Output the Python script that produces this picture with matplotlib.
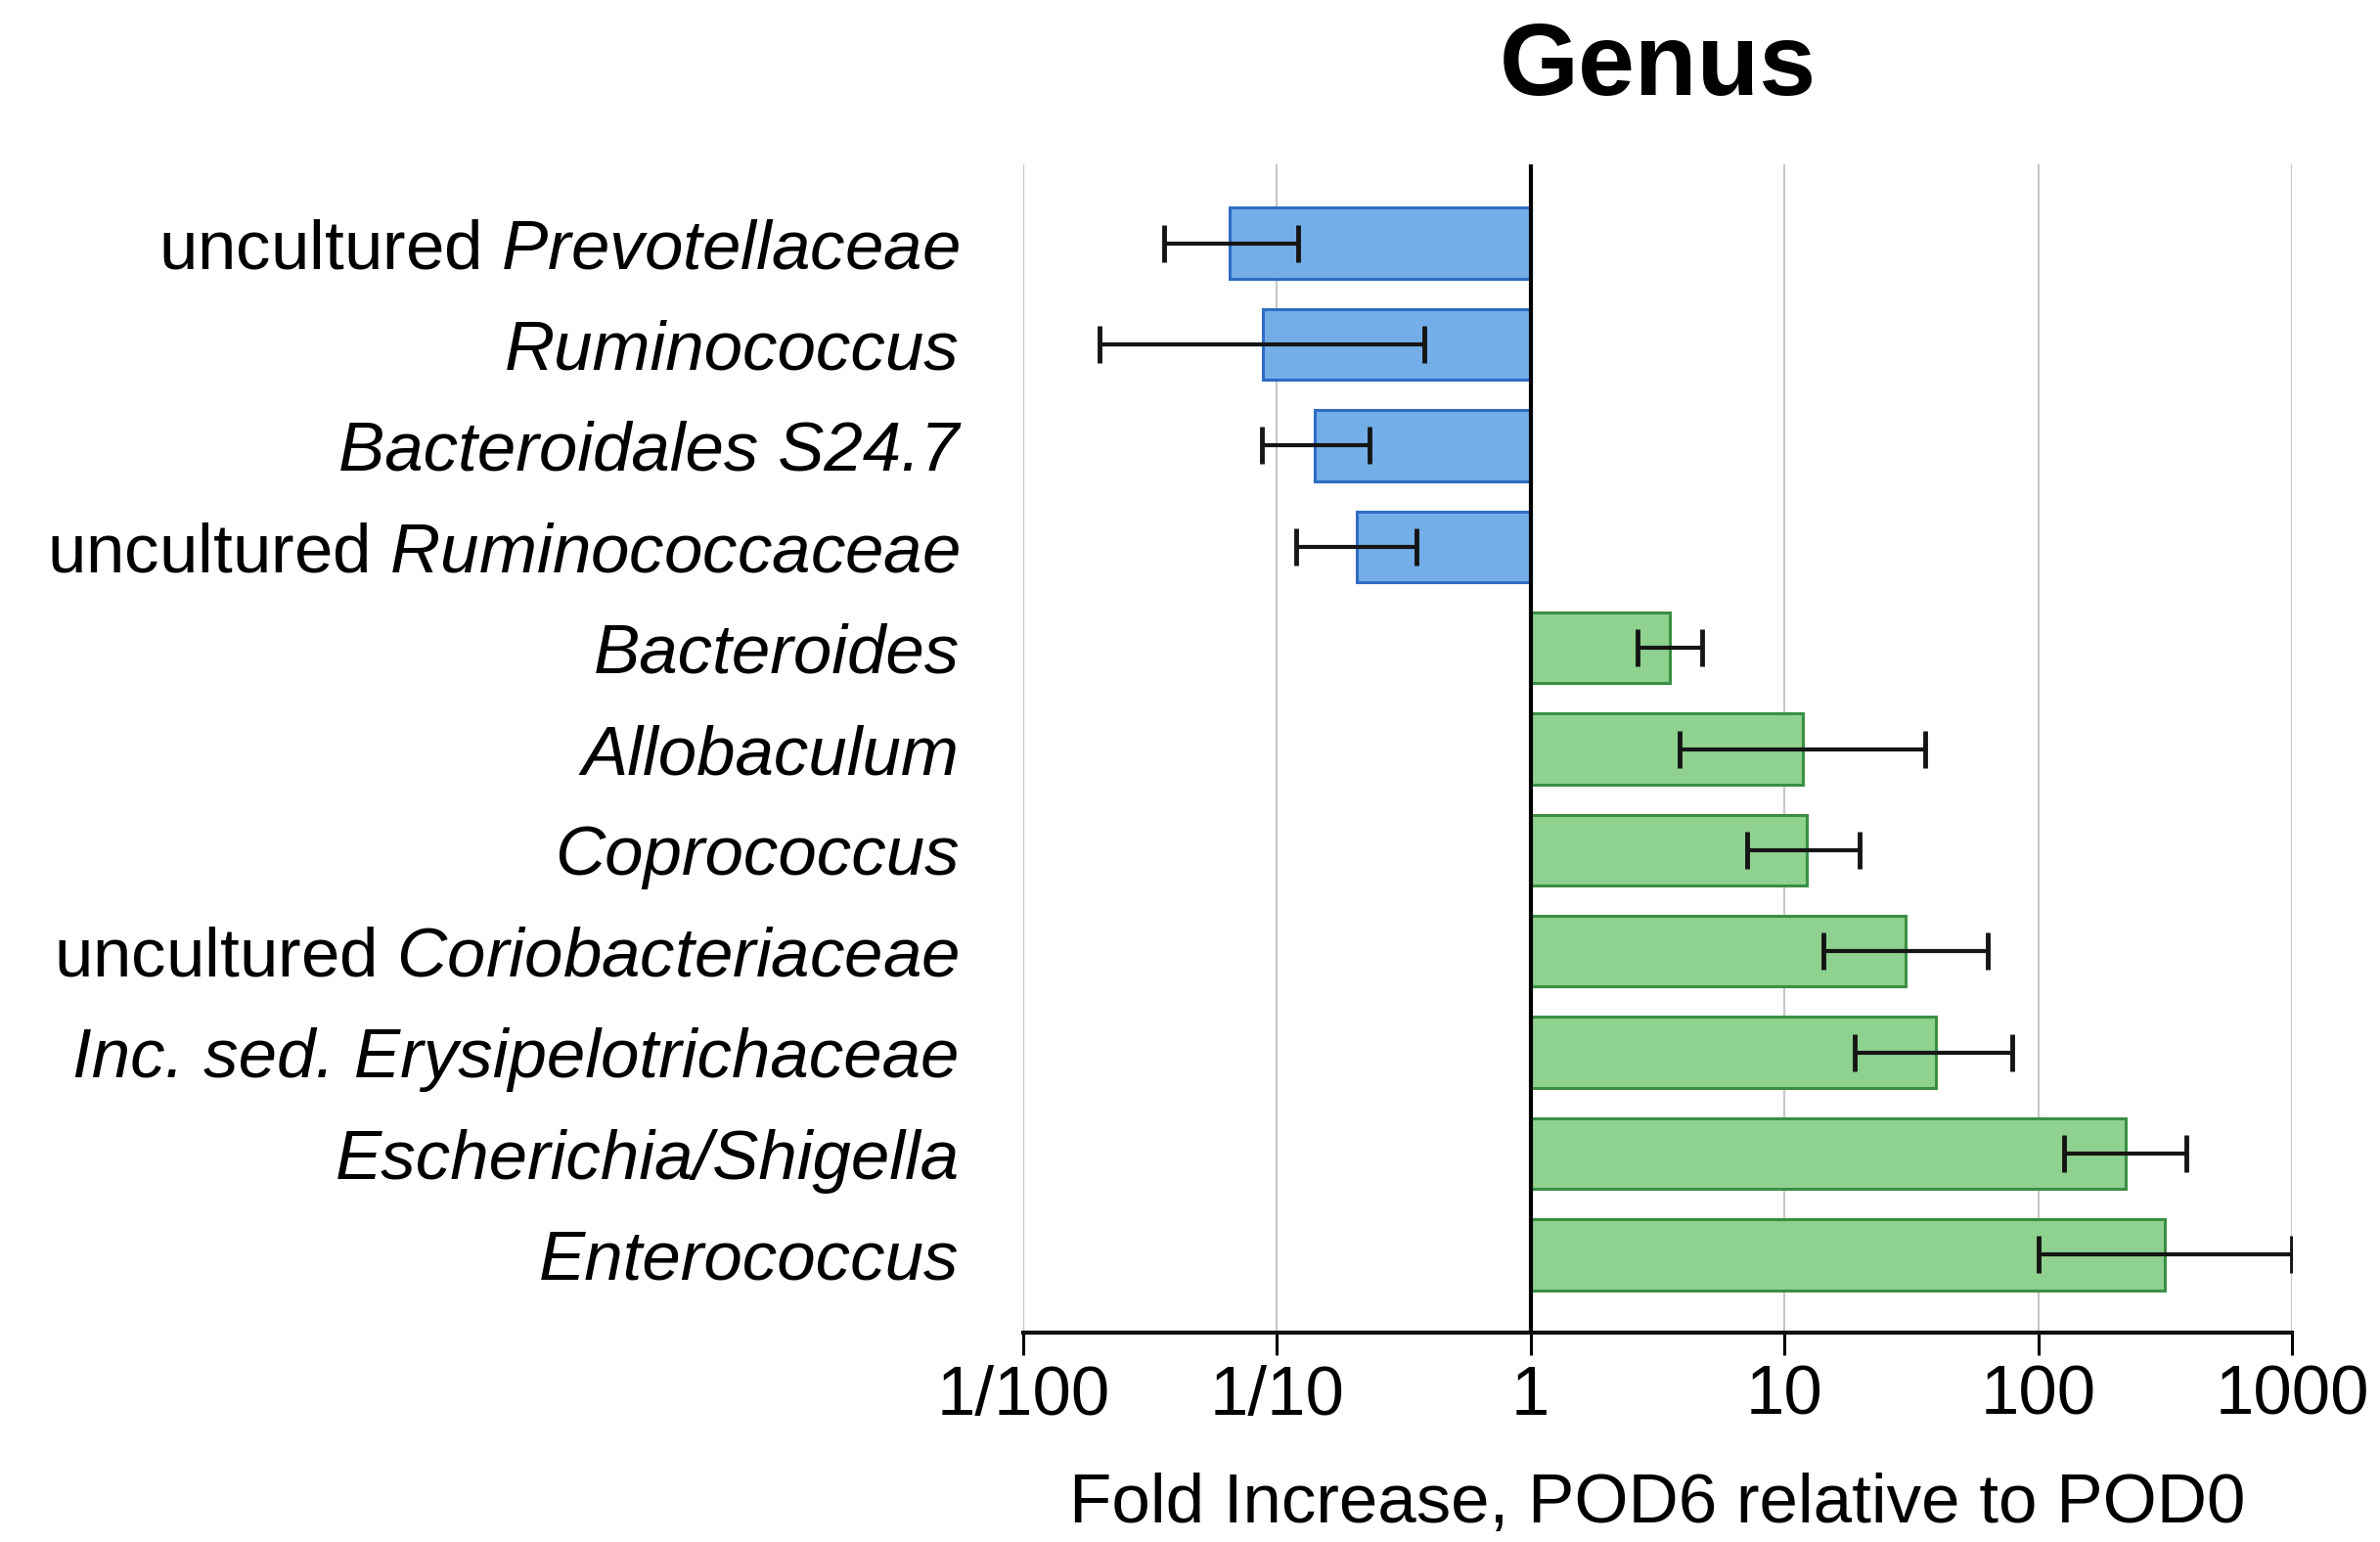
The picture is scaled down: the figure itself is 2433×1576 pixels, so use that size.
import numpy as np
import matplotlib
matplotlib.use("Agg")
import matplotlib.pyplot as plt

plt.rcParams['font.family'] = ['Liberation Sans', 'DejaVu Sans']
plt.rcParams['mathtext.fontset'] = 'custom'
plt.rcParams['mathtext.rm'] = 'Liberation Sans'
plt.rcParams['mathtext.it'] = 'Liberation Sans:italic'

categories = [
    r"uncultured $\mathit{Prevotellaceae}$",
    "Ruminococcus",
    "Bacteroidales S24.7",
    r"uncultured $\mathit{Ruminococcaceae}$",
    "Bacteroides",
    "Allobaculum",
    "Coprococcus",
    r"uncultured $\mathit{Coriobacteriaceae}$",
    "Inc. sed. Erysipelotrichaceae",
    "Escherichia/Shigella",
    "Enterococcus",
]
fully_italic = [False, True, True, False, True, True, True, False, True, True, True]
fold = [0.065, 0.088, 0.141, 0.206, 3.53, 11.8, 12.2, 30.1, 39.5, 221, 316]
ci_low = [0.036, 0.020, 0.087, 0.119, 2.64, 3.87, 7.14, 14.2, 19.0, 126, 100]
ci_high = [0.121, 0.381, 0.231, 0.356, 4.75, 35.7, 19.8, 63.5, 78.7, 383, 1000]

tick_values = [0.01, 0.1, 1, 10, 100, 1000]
tick_labels = ["1/100", "1/10", "1", "10", "100", "1000"]

fold = np.array(fold)
ci_low = np.array(ci_low)
ci_high = np.array(ci_high)
ypos = np.arange(len(categories))

fig = plt.figure(figsize=(24.33, 15.76), dpi=100)
ax = fig.add_axes([0.4299, 0.1358, 0.5331, 0.7576])
ax.set_xscale('log')
ax.set_xlim(0.01, 1000)
ax.set_ylim(10.77, -0.78)

face = np.where(fold < 1, '#74aee8', '#8fd18f')
edge = np.where(fold < 1, '#2f6cc4', '#3b8f43')
left = np.minimum(fold, 1.0)
width = np.abs(fold - 1.0)
ax.barh(ypos, width, left=left, height=0.70, color=face, edgecolor=edge,
        linewidth=2.2, zorder=2)
ax.errorbar(fold, ypos, xerr=[fold - ci_low, ci_high - fold], fmt='none',
            ecolor='#151515', elinewidth=3.0, capsize=14, capthick=3.5,
            zorder=3)

ax.axvline(1, color='black', linewidth=3, zorder=4)
ax.grid(axis='x', which='major', color='#c8c8c8', linewidth=1.6, zorder=0)
ax.grid(axis='y', visible=False)
ax.set_axisbelow(True)

for s in ['top', 'right', 'left']:
    ax.spines[s].set_visible(False)
ax.spines['bottom'].set_linewidth(3)
ax.spines['bottom'].set_color('#111111')

ax.set_xticks(tick_values)
ax.set_xticklabels(tick_labels)
ax.xaxis.set_minor_locator(matplotlib.ticker.NullLocator())
ax.tick_params(axis='x', length=16.5, width=2.2, pad=7, labelsize=51,
               colors='black', direction='out')
ax.set_yticks(ypos)
ax.set_yticklabels(categories)
ax.tick_params(axis='y', length=0, pad=47, labelsize=51)
for lbl, it in zip(ax.get_yticklabels(), fully_italic):
    if it:
        lbl.set_fontstyle('italic')

fig.text(0.4299 + 0.5331 / 2, 0.955, "Genus", ha='center', va='center',
         fontsize=75, fontweight='bold')
fig.text(0.4299 + 0.5331 / 2, 0.013, "Fold Increase, POD6 relative to POD0",
         ha='center', va='baseline', fontsize=51)

fig.savefig("out.png", dpi=100)
